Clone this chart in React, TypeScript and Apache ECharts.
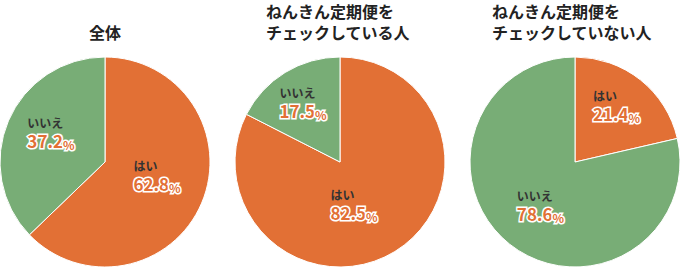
import React, { useEffect, useRef } from "react";
import * as echarts from "echarts";

const categories = ["はい", "いいえ"];
const allValues = [62.8, 37.2];
const checkedValues = [82.5, 17.5];
const uncheckedValues = [21.4, 78.6];
const titles = ["全体", "ねんきん定期便を\nチェックしている人", "ねんきん定期便を\nチェックしていない人"];

const ORANGE = "#E27035";
const GREEN = "#78AD76";
const FONT = '"Noto Sans CJK JP", "Noto Sans", sans-serif';

const labelOffsets = [
  [[1, -8], [-3, -8]],
  [[-15, -5], [-8, -12]],
  [[7, -13], [0, 0]],
];

function makeSeries(values: number[], center: [number, number], idx: number) {
  return {
    type: "pie",
    center,
    radius: 105,
    startAngle: 90,
    clockwise: true,
    silent: true,
    itemStyle: { borderColor: "#ffffff", borderWidth: 1 },
    labelLine: { show: false },
    data: values.map((v, i) => ({
      name: categories[i],
      value: v,
      itemStyle: { color: i === 0 ? ORANGE : GREEN },
      label: { offset: labelOffsets[idx][i] },
    })),
    label: {
      show: true,
      position: "inside",
      formatter: "{n|{b}}\n{v|{c}}{p|%}",
      rich: {
        n: {
          fontFamily: FONT,
          fontSize: 12,
          fontWeight: "bold",
          color: "#333333",
          lineHeight: 16,
          align: "left",
        },
        v: {
          fontFamily: FONT,
          fontSize: 17,
          fontWeight: "bold",
          color: ORANGE,
          textBorderColor: "#ffffff",
          textBorderWidth: 3,
          lineHeight: 20,
          align: "left",
        },
        p: {
          fontFamily: FONT,
          fontSize: 12,
          fontWeight: "bold",
          color: ORANGE,
          textBorderColor: "#ffffff",
          textBorderWidth: 3,
          lineHeight: 20,
          align: "left",
          verticalAlign: "bottom",
        },
      },
    },
  };
}

export default function App() {
  const ref = useRef<HTMLDivElement>(null);
  useEffect(() => {
    if (!ref.current) return;
    const chart = echarts.init(ref.current, undefined, { renderer: "svg" });
    const titleStyle = {
      fontFamily: FONT,
      fontSize: 16,
      fontWeight: "bold" as const,
      color: "#222222",
      lineHeight: 21,
    };
    chart.setOption({
      animation: false,
      backgroundColor: "#ffffff",
      title: [
        { text: titles[0], left: 89, top: 21, padding: 0, textStyle: titleStyle },
        { text: titles[1], left: 266, top: 0, padding: 0, textStyle: titleStyle },
        { text: titles[2], left: 492, top: 0, padding: 0, textStyle: titleStyle },
      ],
      series: [
        makeSeries(allValues, [105, 162], 0),
        makeSeries(checkedValues, [340, 162], 1),
        makeSeries(uncheckedValues, [575, 162], 2),
      ],
    });
    return () => chart.dispose();
  }, []);
  return (
    <div
      ref={ref}
      style={{ position: "fixed", left: 0, top: 0, width: 680, height: 267 }}
    />
  );
}
